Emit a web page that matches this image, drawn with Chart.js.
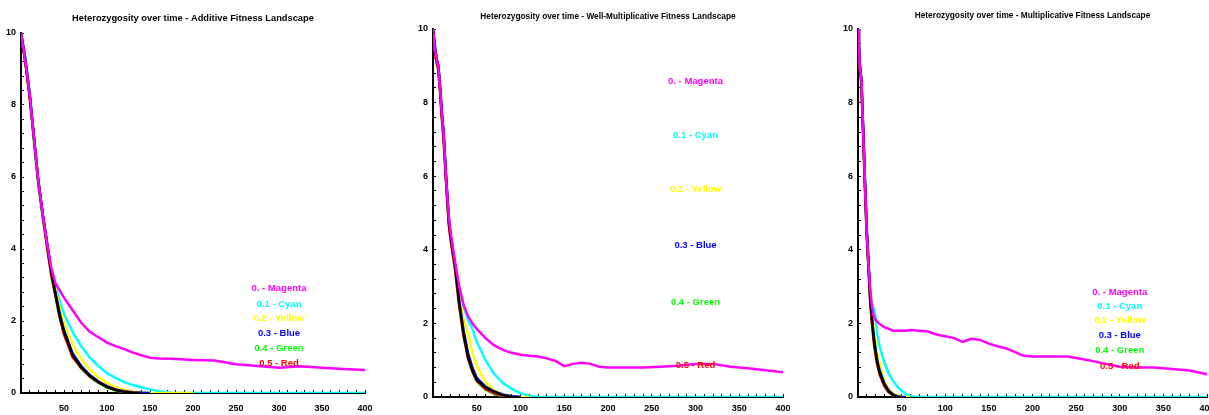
<!DOCTYPE html>
<html>
<head>
<meta charset="utf-8">
<script src="https://cdn.jsdelivr.net/npm/chart.js@4.4.1/dist/chart.umd.min.js"></script>
<style>
	html, body { margin: 0; padding: 0; background: #fff; overflow: hidden; width: 1209px; height: 415px; }
	canvas { position: absolute; top: 0; }
</style>
</head>
<body>
<canvas id="additive" width="377" height="415" style="left:0"></canvas>
<canvas id="wellmult" width="385" height="415" style="left:410px"></canvas>
<canvas id="mult" width="385" height="415" style="left:835px"></canvas>
<script>
// legend names, one per migration rate
const seriesNames = ['0. - Magenta', '0.1 - Cyan', '0.2 - Yellow', '0.3 - Blue', '0.4 - Green', '0.5 - Red']

// ---- additive landscape
const times1 = [0, 5, 10, 15, 20, 25, 30, 35, 40, 45, 50, 60, 70, 80, 90, 100, 110, 120, 130, 140, 150, 160, 175, 200, 225, 250, 275, 300, 325, 350, 375, 400]
const magenta1 = [10, 9.2, 8.3, 7.1, 5.9, 5.0, 4.2, 3.5, 3.05, 2.85, 2.65, 2.3, 1.95, 1.7, 1.55, 1.4, 1.3, 1.22, 1.12, 1.05, 0.98, 0.96, 0.95, 0.92, 0.9, 0.8, 0.75, 0.7, 0.74, 0.7, 0.67, 0.64]
const cyan1 = [10, 9.3, 8.4, 7.2, 6.0, 5.0, 4.2, 3.45, 3.0, 2.55, 2.2, 1.7, 1.3, 0.98, 0.75, 0.55, 0.42, 0.3, 0.22, 0.16, 0.1, 0.05, 0.01, 0, 0, 0, 0, 0, 0, 0, 0, 0]
const yellow1 = [10, 9.2, 8.3, 7.2, 6.0, 5.0, 4.2, 3.4, 2.9, 2.35, 1.95, 1.35, 0.95, 0.65, 0.43, 0.28, 0.16, 0.09, 0.04, 0.01, 0, 0, 0, 0]
const blue1 = [10, 9.3, 8.3, 7.1, 5.9, 5.0, 4.2, 3.4, 2.8, 2.2, 1.75, 1.1, 0.75, 0.5, 0.32, 0.19, 0.1, 0.05, 0.02, 0.01, 0]
const green1 = [10, 9.2, 8.3, 7.0, 5.8, 4.9, 4.1, 3.3, 2.7, 2.1, 1.65, 1.0, 0.68, 0.45, 0.28, 0.15, 0.07, 0.03, 0.01, 0]
const red1 = [10, 9.2, 8.2, 7.1, 5.9, 5.0, 4.1, 3.3, 2.7, 2.1, 1.62, 1.0, 0.7, 0.46, 0.3, 0.17, 0.08, 0.04, 0.01, 0]
const black1 = [10, 9.2, 8.3, 7.1, 5.9, 5.0, 4.2, 3.4, 2.75, 2.15, 1.7, 1.05, 0.72, 0.48, 0.3, 0.17, 0.08, 0.035, 0.01, 0]

// ---- well-multiplicative landscape
const times2 = [0, 2, 4, 6, 8, 10, 12, 15, 18, 20, 25, 30, 35, 40, 45, 50, 60, 70, 80, 90, 100, 110, 120, 130, 140, 150, 160, 170, 180, 190, 200, 220, 240, 260, 280, 300, 320, 340, 360, 380, 400]
const magenta2 = [10, 9.5, 9.2, 9.0, 8.4, 7.7, 7.2, 5.9, 4.9, 4.5, 3.7, 3.0, 2.5, 2.2, 2.0, 1.85, 1.6, 1.4, 1.28, 1.2, 1.15, 1.12, 1.1, 1.05, 0.98, 0.84, 0.9, 0.93, 0.9, 0.82, 0.8, 0.8, 0.8, 0.82, 0.85, 0.9, 0.9, 0.82, 0.78, 0.73, 0.67]
const cyan2 = [10, 9.5, 9.2, 9.0, 8.4, 7.7, 7.2, 5.9, 4.8, 4.4, 3.6, 2.9, 2.45, 2.1, 1.85, 1.5, 1.0, 0.62, 0.38, 0.22, 0.1, 0.03, 0, 0, 0, 0, 0, 0, 0, 0, 0, 0, 0, 0, 0, 0, 0, 0, 0, 0, 0]
const yellow2 = [10, 9.5, 9.2, 9.0, 8.4, 7.7, 7.2, 5.9, 4.8, 4.4, 3.6, 2.7, 2.1, 1.7, 1.2, 0.85, 0.4, 0.18, 0.07, 0.02, 0, 0]
const blue2 = [10, 9.6, 9.2, 9.0, 8.5, 7.8, 7.2, 6.0, 4.9, 4.4, 3.65, 2.6, 1.8, 1.2, 0.8, 0.52, 0.28, 0.15, 0.06, 0.02, 0]
const green2 = [10, 9.5, 9.1, 8.9, 8.3, 7.6, 7.1, 5.8, 4.7, 4.3, 3.5, 2.5, 1.65, 1.05, 0.68, 0.42, 0.2, 0.08, 0.02, 0]
const red2 = [10, 9.4, 9.1, 8.9, 8.3, 7.6, 7.0, 5.8, 4.7, 4.3, 3.5, 2.45, 1.65, 1.05, 0.7, 0.44, 0.22, 0.1, 0.03, 0]
const black2 = [10, 9.5, 9.2, 9.0, 8.4, 7.7, 7.2, 5.9, 4.8, 4.4, 3.6, 2.55, 1.7, 1.1, 0.72, 0.46, 0.26, 0.14, 0.05, 0.01, 0]

// ---- multiplicative landscape
const times3 = [0, 1, 2, 3, 4, 5, 6, 8, 10, 12, 14, 16, 18, 20, 22, 25, 30, 35, 40, 45, 50, 55, 60, 70, 80, 90, 100, 110, 120, 130, 140, 150, 160, 170, 180, 190, 200, 220, 240, 260, 280, 300, 320, 340, 360, 380, 400]
const magenta3 = [10, 9.6, 9.0, 8.8, 8.6, 7.8, 7.2, 5.8, 4.5, 3.6, 2.9, 2.45, 2.2, 2.1, 2.05, 1.98, 1.9, 1.85, 1.8, 1.8, 1.8, 1.8, 1.82, 1.8, 1.78, 1.7, 1.65, 1.6, 1.5, 1.58, 1.55, 1.45, 1.38, 1.32, 1.22, 1.12, 1.1, 1.1, 1.1, 1.02, 0.92, 0.82, 0.8, 0.8, 0.76, 0.72, 0.62]
const cyan3 = [10, 9.6, 9.0, 8.8, 8.6, 7.8, 7.2, 5.8, 4.5, 3.6, 2.85, 2.5, 2.4, 2.2, 1.7, 1.35, 0.95, 0.65, 0.45, 0.28, 0.17, 0.08, 0.02, 0, 0, 0, 0, 0, 0, 0, 0, 0, 0, 0, 0, 0, 0, 0, 0, 0, 0, 0, 0, 0, 0, 0, 0]
const yellow3 = [10, 9.6, 9.0, 8.8, 8.6, 7.8, 7.2, 5.8, 4.5, 3.6, 2.75, 2.25, 1.85, 1.5, 1.2, 0.88, 0.45, 0.22, 0.1, 0.04, 0.01, 0, 0]
const blue3 = [10, 9.6, 9.1, 8.8, 8.6, 7.9, 7.3, 5.9, 4.6, 3.7, 2.75, 2.15, 1.65, 1.3, 1.0, 0.7, 0.38, 0.18, 0.07, 0.02, 0, 0]
const green3 = [10, 9.5, 9.0, 8.7, 8.5, 7.7, 7.1, 5.7, 4.4, 3.5, 2.6, 2.0, 1.55, 1.2, 0.9, 0.6, 0.32, 0.14, 0.05, 0.01, 0]
const red3 = [10, 9.5, 8.9, 8.7, 8.5, 7.7, 7.0, 5.6, 4.4, 3.5, 2.6, 2.0, 1.5, 1.15, 0.88, 0.6, 0.3, 0.13, 0.05, 0]
const black3 = [10, 9.6, 9.0, 8.8, 8.6, 7.8, 7.2, 5.8, 4.5, 3.6, 2.7, 2.1, 1.6, 1.25, 0.95, 0.65, 0.35, 0.16, 0.06, 0.01, 0]

// where the coloured labels sit, in axis units
const labelX = 300
const labelY1 = [2.9, 2.47, 2.08, 1.67, 1.25, 0.83]
const labelY2 = [8.59, 7.12, 5.63, 4.13, 2.58, 0.87]
const labelY3 = [2.85, 2.47, 2.09, 1.68, 1.28, 0.84]

const labelColors = ['#ff00ff', '#00ffff', '#ffff00', '#0000ff', '#00ff00', '#ff0000']
const FONT = '"Liberation Sans Narrow", "Liberation Sans", Arial, sans-serif'
Chart.defaults.font.family = FONT
Chart.defaults.color = '#000'

const inlineLabels = {
	id: 'inlineLabels',
	afterDatasetsDraw(chart, args, opts) {
		const { ctx, scales } = chart
		ctx.save()
		ctx.font = `bold 9.5px ${FONT}`
		ctx.textAlign = 'center'
		ctx.textBaseline = 'middle'
		opts.ys.forEach((y, i) => {
			ctx.fillStyle = labelColors[i]
			ctx.fillText(seriesNames[i], scales.x.getPixelForValue(opts.x), scales.y.getPixelForValue(y))
		})
		ctx.restore()
	}
}

function line(times, values, color) {
	return {
		data: values.map((y, i) => ({ x: times[i], y: y })),
		borderColor: color,
		borderWidth: 2.5,
		pointRadius: 0,
		tension: 0,
		fill: false
	}
}

function draw(id, title, times, s, labelY, box) {
	// first dataset ends up on top
	const datasets = [
		line(times, s.magenta, '#ff00ff'),
		line(times, s.black, '#000000'),
		line(times, s.red, '#ff0000'),
		line(times, s.green, '#00ff00'),
		line(times, s.blue, '#0000ff'),
		line(times, s.yellow, '#ffff00'),
		line(times, s.cyan, '#00ffff')
	]
	new Chart(id, {
		type: 'line',
		data: { datasets },
		options: {
			responsive: false,
			animation: false,
			events: [],
			layout: { padding: { left: 0, right: box.right, top: 0, bottom: 0 } },
			plugins: {
				legend: { display: false },
				tooltip: { enabled: false },
				title: {
					display: true,
					text: title,
					fullSize: false,
					color: '#000',
					font: { size: box.titleSize, weight: 'bold', lineHeight: 12 / box.titleSize },
					padding: { top: box.titleTop, bottom: box.titleBottom }
				},
				inlineLabels: { x: labelX, ys: labelY }
			},
			scales: {
				x: {
					type: 'linear',
					min: 0,
					max: 400,
					afterFit: sc => { sc.height = box.xh; sc.paddingLeft = 0; sc.paddingRight = 0 },
					border: { color: '#000', width: 2 },
					grid: { drawOnChartArea: false, color: '#000', lineWidth: 1, tickLength: -3 },
					ticks: {
						stepSize: 10, maxTicksLimit: 100, autoSkip: false, maxRotation: 0,
						padding: box.xpad, color: '#000', font: { size: 9, weight: 'bold' },
						callback: v => (v > 0 && v % 50 === 0) ? v : ''
					}
				},
				y: {
					min: 0,
					max: 10,
					afterFit: sc => { sc.width = box.yw },
					border: { color: '#000', width: 2 },
					grid: { drawOnChartArea: false, color: '#000', lineWidth: 1, tickLength: -3 },
					ticks: {
						stepSize: 0.4, maxTicksLimit: 100, autoSkip: false,
						padding: 8, color: '#000', font: { size: 9, weight: 'bold' },
						callback: v => {
							const r = Math.round(v / 2) * 2
							return Math.abs(v - r) < 1e-6 ? r : ''
						}
					}
				}
			}
		},
		plugins: [inlineLabels]
	})
}

draw('additive', 'Heterozygosity over time - Additive Fitness Landscape', times1,
	{ magenta: magenta1, cyan: cyan1, yellow: yellow1, blue: blue1, green: green1, red: red1, black: black1 },
	labelY1, { right: 12, yw: 21, xh: 22, xpad: 13, titleTop: 12, titleBottom: 9, titleSize: 9.3 })

draw('wellmult', 'Heterozygosity over time - Well-Multiplicative Fitness Landscape', times2,
	{ magenta: magenta2, cyan: cyan2, yellow: yellow2, blue: blue2, green: green2, red: red2, black: black2 },
	labelY2, { right: 12, yw: 23, xh: 18, xpad: 9, titleTop: 11, titleBottom: 6, titleSize: 8.3 })

draw('mult', 'Heterozygosity over time - Multiplicative Fitness Landscape', times3,
	{ magenta: magenta3, cyan: cyan3, yellow: yellow3, blue: blue3, green: green3, red: red3, black: black3 },
	labelY3, { right: 13, yw: 23, xh: 18, xpad: 9, titleTop: 10, titleBottom: 7, titleSize: 8.3 })
</script>
</body>
</html>
